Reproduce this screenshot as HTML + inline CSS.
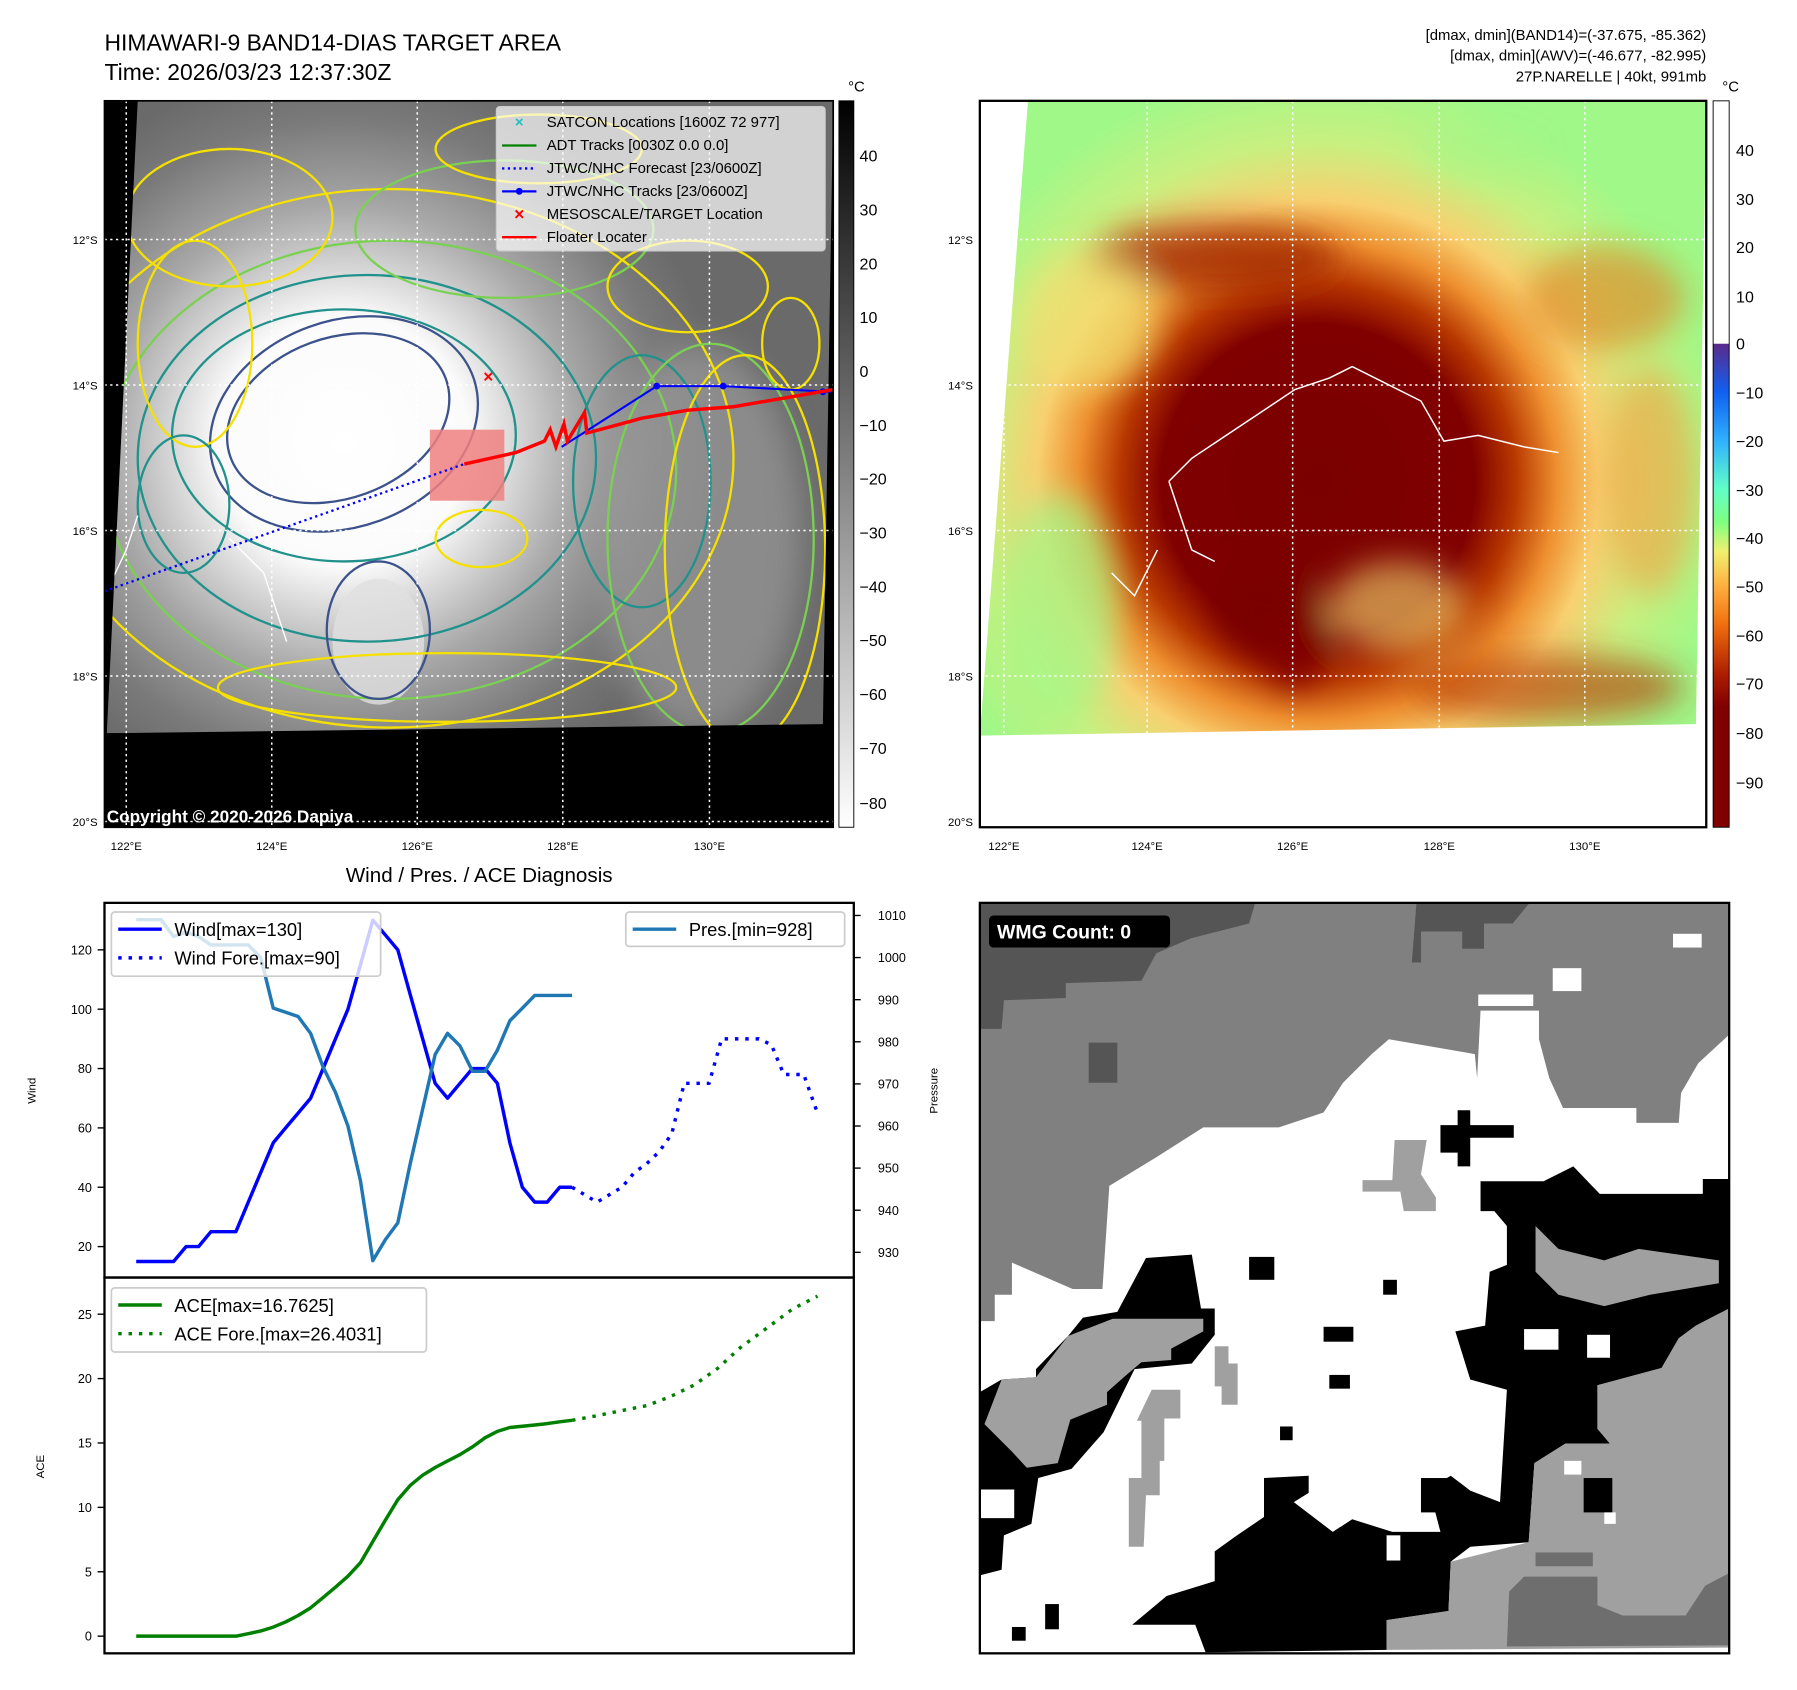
<!DOCTYPE html>
<html><head><meta charset="utf-8"><style>
html,body{margin:0;padding:0;background:#fff;}
svg{display:block;font-family:"Liberation Sans",sans-serif;}
</style></head><body>
<svg id="fig" width="1797" height="1690" viewBox="0 0 1568 1475" xmlns="http://www.w3.org/2000/svg">
<defs>
<radialGradient id="irg" cx="300" cy="385" r="330" gradientUnits="userSpaceOnUse">
<stop offset="0" stop-color="#fff"/><stop offset="0.33" stop-color="#fbfbfb"/><stop offset="0.45" stop-color="#d8d8d8"/><stop offset="0.62" stop-color="#a8a8a8"/><stop offset="0.85" stop-color="#7a7a7a"/><stop offset="1" stop-color="#6a6a6a"/></radialGradient>
<radialGradient id="awv" cx="1150" cy="420" r="360" gradientUnits="userSpaceOnUse">
<stop offset="0" stop-color="#7a0000"/><stop offset="0.38" stop-color="#800000"/><stop offset="0.48" stop-color="#b83800"/><stop offset="0.58" stop-color="#ee9030"/><stop offset="0.68" stop-color="#f8d070"/><stop offset="0.82" stop-color="#c8f080"/><stop offset="1" stop-color="#a0f888"/></radialGradient>
<linearGradient id="cbL" x1="0" y1="0" x2="0" y2="1"><stop offset="0" stop-color="#000"/><stop offset="1" stop-color="#fff"/></linearGradient>
<linearGradient id="cbR" x1="0" y1="0" x2="0" y2="1">
<stop offset="0" stop-color="#5a2a8a"/><stop offset="0.1" stop-color="#1060f0"/><stop offset="0.2" stop-color="#30b0ff"/><stop offset="0.3" stop-color="#60ffc8"/><stop offset="0.37" stop-color="#80ff80"/><stop offset="0.43" stop-color="#f0f070"/><stop offset="0.5" stop-color="#ffb040"/><stop offset="0.58" stop-color="#f07010"/><stop offset="0.68" stop-color="#b02000"/><stop offset="0.75" stop-color="#800000"/><stop offset="1" stop-color="#800000"/></linearGradient>
<filter id="blur" x="-20%" y="-20%" width="140%" height="140%"><feGaussianBlur stdDeviation="14"/></filter>
<clipPath id="clipL"><polygon points="120,88 727,88 718,632 93,640"/></clipPath>
<clipPath id="clipR"><polygon points="897,88 1489,88 1480,632 855,642"/></clipPath>
</defs>

<text x="91" y="44" font-size="20">HIMAWARI-9 BAND14-DIAS TARGET AREA</text>
<text x="91" y="70" font-size="20">Time: 2026/03/23 12:37:30Z</text>
<g font-size="13" text-anchor="end">
<text x="1489" y="35">[dmax, dmin](BAND14)=(-37.675, -85.362)</text>
<text x="1489" y="53">[dmax, dmin](AWV)=(-46.677, -82.995)</text>
<text x="1489" y="71">27P.NARELLE | 40kt, 991mb</text></g>

<!-- LEFT MAP -->
<g>
<rect x="91" y="88" width="636" height="634" fill="#000"/>
<g clip-path="url(#clipL)">
<rect x="91" y="88" width="636" height="560" fill="url(#irg)"/>
<ellipse cx="610" cy="470" rx="90" ry="170" fill="#9a9a9a" opacity="0.7" filter="url(#blur)"/>
<ellipse cx="330" cy="560" rx="40" ry="55" fill="#e0e0e0" opacity="0.8"/>
<g fill="none" stroke-width="2">
<ellipse cx="340" cy="400" rx="300" ry="235" stroke="#f5e000"/>
<ellipse cx="340" cy="410" rx="250" ry="200" stroke="#7ad151"/>
<ellipse cx="320" cy="400" rx="200" ry="160" stroke="#21918c"/>
<ellipse cx="300" cy="380" rx="150" ry="110" stroke="#21918c"/>
<ellipse cx="300" cy="370" rx="120" ry="90" stroke="#3b528b" transform="rotate(-20 300 370)"/>
<ellipse cx="295" cy="365" rx="100" ry="70" stroke="#3b528b" transform="rotate(-20 295 365)"/>
<ellipse cx="560" cy="420" rx="60" ry="110" stroke="#21918c"/>
<ellipse cx="620" cy="470" rx="90" ry="170" stroke="#7ad151"/>
<ellipse cx="650" cy="480" rx="70" ry="170" stroke="#f5e000"/>
<ellipse cx="200" cy="190" rx="90" ry="60" stroke="#f5e000"/>
<ellipse cx="440" cy="200" rx="130" ry="60" stroke="#7ad151"/>
<ellipse cx="330" cy="550" rx="45" ry="60" stroke="#3b528b"/>
<ellipse cx="390" cy="600" rx="200" ry="30" stroke="#f5e000"/>
<ellipse cx="170" cy="300" rx="50" ry="90" stroke="#f5e000"/>
<ellipse cx="160" cy="440" rx="40" ry="60" stroke="#21918c"/>
<ellipse cx="470" cy="130" rx="90" ry="30" stroke="#f5e000"/>
<ellipse cx="600" cy="250" rx="70" ry="40" stroke="#f5e000"/>
<ellipse cx="420" cy="470" rx="40" ry="25" stroke="#f5e000"/>
<ellipse cx="690" cy="300" rx="25" ry="40" stroke="#f5e000"/>
</g>
<path d="M91,520 L110,480 L120,450 M200,470 L230,500 L250,560" stroke="#fff" fill="none" stroke-width="1.2"/>
</g>
<g stroke="#fff" stroke-width="1.3" stroke-dasharray="2,3">
<line x1="110" y1="88" x2="110" y2="722"/><line x1="237" y1="88" x2="237" y2="722"/><line x1="364" y1="88" x2="364" y2="722"/><line x1="491" y1="88" x2="491" y2="722"/><line x1="619" y1="88" x2="619" y2="722"/>
<line x1="91" y1="209" x2="727" y2="209"/><line x1="91" y1="336" x2="727" y2="336"/><line x1="91" y1="463" x2="727" y2="463"/><line x1="91" y1="590" x2="727" y2="590"/><line x1="91" y1="717" x2="727" y2="717"/></g>
<rect x="375" y="375" width="65" height="62" fill="#f08080" opacity="0.85"/>
<line x1="91" y1="516" x2="405" y2="405" stroke="#00f" stroke-width="2" stroke-dasharray="2,3"/>
<polyline points="490,390 573,337 631,337 725,342" fill="none" stroke="#00f" stroke-width="1.8"/>
<g fill="#00f"><circle cx="573" cy="337" r="3"/><circle cx="631" cy="337" r="3"/><circle cx="718" cy="342" r="3"/></g>
<polyline points="405,405 450,395 475,385 480,375 485,390 492,370 495,385 510,360 512,378 560,365 600,358 640,355 727,340" fill="none" stroke="#f00" stroke-width="3"/>
<text x="426" y="334" font-size="15" fill="#f00" text-anchor="middle" font-weight="bold">×</text>
<g>
<rect x="433" y="93" width="287" height="126" fill="#fff" fill-opacity="0.7" stroke="#ccc" rx="3"/>
<g font-size="13"><text x="477" y="111">SATCON Locations [1600Z 72 977]</text><text x="477" y="131">ADT Tracks [0030Z 0.0 0.0]</text><text x="477" y="151">JTWC/NHC Forecast [23/0600Z]</text><text x="477" y="171">JTWC/NHC Tracks [23/0600Z]</text><text x="477" y="191">MESOSCALE/TARGET Location</text><text x="477" y="211">Floater Locater</text></g>
<text x="453" y="111" fill="#20c0c0" font-size="13" text-anchor="middle" font-weight="bold">×</text>
<line x1="438" y1="127" x2="468" y2="127" stroke="#008000" stroke-width="2"/>
<line x1="438" y1="147" x2="468" y2="147" stroke="#00f" stroke-width="2" stroke-dasharray="2,3"/>
<line x1="438" y1="167" x2="468" y2="167" stroke="#00f" stroke-width="2"/><circle cx="453" cy="167" r="3" fill="#00f"/>
<text x="453" y="192" fill="#f00" font-size="15" text-anchor="middle" font-weight="bold">×</text>
<line x1="438" y1="207" x2="468" y2="207" stroke="#f00" stroke-width="2"/></g>
<text x="93" y="718" font-size="15" font-weight="bold" fill="#fff">Copyright © 2020-2026 Dapiya</text>
<rect x="91" y="88" width="636" height="634" fill="none" stroke="#000" stroke-width="1.5"/>
</g>
<g font-size="10">
<g text-anchor="end"><text x="85" y="213">12°S</text><text x="85" y="340">14°S</text><text x="85" y="467">16°S</text><text x="85" y="594">18°S</text><text x="85" y="721">20°S</text></g>
<g text-anchor="middle"><text x="110" y="742">122°E</text><text x="237" y="742">124°E</text><text x="364" y="742">126°E</text><text x="491" y="742">128°E</text><text x="619" y="742">130°E</text></g></g>
<g>
<rect x="732" y="88" width="13" height="634" fill="url(#cbL)" stroke="#000" stroke-width="0.8"/>
<text x="740" y="80" font-size="13">°C</text>
<g font-size="14"><text x="750" y="141">40</text><text x="750" y="188">30</text><text x="750" y="235">20</text><text x="750" y="282">10</text><text x="750" y="329">0</text><text x="750" y="376">−10</text><text x="750" y="423">−20</text><text x="750" y="470">−30</text><text x="750" y="517">−40</text><text x="750" y="564">−50</text><text x="750" y="611">−60</text><text x="750" y="658">−70</text><text x="750" y="706">−80</text></g></g>

<!-- RIGHT MAP -->
<g>
<g clip-path="url(#clipR)">
<rect x="855" y="88" width="634" height="560" fill="url(#awv)"/>
<g filter="url(#blur)">
<ellipse cx="1110" cy="540" rx="55" ry="40" fill="#7a0000" transform="rotate(30 1110 540)"/>
<ellipse cx="1130" cy="570" rx="25" ry="30" fill="#800000"/>
<ellipse cx="1060" cy="225" rx="110" ry="30" fill="#a02800" opacity="0.8"/>
<ellipse cx="1400" cy="260" rx="70" ry="45" fill="#e08020" opacity="0.6"/>
<ellipse cx="925" cy="530" rx="50" ry="100" fill="#a0f888" opacity="0.7"/>
<ellipse cx="950" cy="280" rx="60" ry="60" fill="#f0e070" opacity="0.7"/>
<ellipse cx="1300" cy="130" rx="60" ry="30" fill="#a0f888" opacity="0.5"/>
<ellipse cx="1350" cy="600" rx="120" ry="30" fill="#b03000" opacity="0.6"/>
<ellipse cx="1220" cy="530" rx="60" ry="40" fill="#f8e070" opacity="0.6"/>
<ellipse cx="1440" cy="420" rx="40" ry="100" fill="#f0a040" opacity="0.6"/>
</g>
<path d="M1020,420 L1040,400 L1070,380 L1100,360 L1130,340 L1160,330 L1180,320 L1200,330 L1240,350 L1260,385 L1290,380 L1330,390 L1360,395 M1020,420 L1030,450 L1040,480 L1060,490 M970,500 L990,520 L1010,480" fill="none" stroke="#fff" stroke-width="1.3"/>
</g>
<g stroke="#fff" stroke-width="1.3" stroke-dasharray="2,3">
<line x1="876" y1="88" x2="876" y2="722"/><line x1="1001" y1="88" x2="1001" y2="722"/><line x1="1128" y1="88" x2="1128" y2="722"/><line x1="1256" y1="88" x2="1256" y2="722"/><line x1="1383" y1="88" x2="1383" y2="722"/>
<line x1="855" y1="209" x2="1489" y2="209"/><line x1="855" y1="336" x2="1489" y2="336"/><line x1="855" y1="463" x2="1489" y2="463"/><line x1="855" y1="590" x2="1489" y2="590"/><line x1="855" y1="717" x2="1489" y2="717"/></g>
<rect x="855" y="88" width="634" height="634" fill="none" stroke="#000" stroke-width="2"/>
</g>
<g font-size="10">
<g text-anchor="end"><text x="849" y="213">12°S</text><text x="849" y="340">14°S</text><text x="849" y="467">16°S</text><text x="849" y="594">18°S</text><text x="849" y="721">20°S</text></g>
<g text-anchor="middle"><text x="876" y="742">122°E</text><text x="1001" y="742">124°E</text><text x="1128" y="742">126°E</text><text x="1256" y="742">128°E</text><text x="1383" y="742">130°E</text></g></g>
<g>
<rect x="1495" y="88" width="14" height="212" fill="#fff"/>
<rect x="1495" y="300" width="14" height="422" fill="url(#cbR)"/>
<rect x="1495" y="88" width="14" height="634" fill="none" stroke="#000" stroke-width="0.8"/>
<text x="1503" y="80" font-size="13">°C</text>
<g font-size="14"><text x="1515" y="136">40</text><text x="1515" y="179">30</text><text x="1515" y="221">20</text><text x="1515" y="264">10</text><text x="1515" y="305">0</text><text x="1515" y="348">−10</text><text x="1515" y="390">−20</text><text x="1515" y="433">−30</text><text x="1515" y="475">−40</text><text x="1515" y="517">−50</text><text x="1515" y="560">−60</text><text x="1515" y="602">−70</text><text x="1515" y="645">−80</text><text x="1515" y="688">−90</text></g></g>

<!-- WMG PANEL -->
<g>
<rect x="855" y="788" width="654" height="655" fill="#fff"/>
<polygon fill="#808080" points="855,788 1509,788 1509,903 1482,928 1467,954 1465,980 1428,980 1428,967 1364,967 1352,941 1343,907 1343,882 1292,882 1289,941 1287,920 1212,907 1197,920 1172,945 1155,971 1116,984 1050,984 1009,1010 968,1035 962,1125 936,1125 883,1102 883,1130 868,1130 868,1153 855,1153"/>
<polygon fill="#555" points="855,789 1095,789 1090,806 1039,819 1009,832 996,856 930,858 930,871 876,873 874,898 855,898"/>
<polygon fill="#555" points="1236,789 1334,789 1320,806 1295,806 1295,828 1276,828 1276,813 1240,813 1240,840 1232,840"/>
<rect x="950" y="910" width="25" height="35" fill="#555"/>
<rect x="1460" y="815" width="25" height="12" fill="#fff"/><rect x="1355" y="845" width="25" height="20" fill="#fff"/><rect x="1290" y="868" width="48" height="10" fill="#fff"/>
<polygon fill="#000" points="1292,1031 1347,1031 1373,1018 1396,1042 1486,1042 1486,1029 1509,1029 1509,1142 1480,1157 1465,1168 1450,1194 1394,1209 1394,1247 1405,1260 1366,1260 1339,1277 1334,1346 1283,1350 1266,1363 1264,1406 1210,1414 1210,1440 1052,1442 1043,1418 988,1418 1018,1393 1060,1380 1060,1354 1078,1341 1103,1324 1103,1290 1142,1288 1142,1303 1129,1311 1163,1337 1180,1326 1215,1337 1257,1337 1247,1299 1266,1288 1283,1301 1309,1311 1315,1213 1283,1204 1270,1162 1296,1157 1300,1110 1315,1104 1315,1070 1304,1057 1292,1057"/>
<polygon fill="#a0a0a0" points="1509,1142 1509,1438 1210,1440 1210,1414 1264,1406 1266,1363 1334,1346 1339,1277 1366,1260 1405,1260 1394,1247 1394,1209 1450,1194 1465,1168 1480,1157"/>
<polygon fill="#6e6e6e" points="1317,1389 1330,1376 1394,1376 1394,1401 1416,1410 1471,1410 1488,1384 1509,1373 1509,1436 1315,1437"/>
<rect x="1340" y="1355" width="50" height="12" fill="#6e6e6e"/>
<polygon fill="#a0a0a0" points="1340,1070 1360,1090 1400,1100 1430,1090 1500,1100 1500,1120 1440,1130 1400,1140 1360,1130 1340,1110"/>
<polygon fill="#000" points="1272,969 1283,969 1283,982 1321,982 1321,993 1283,993 1283,1018 1272,1018 1272,1006 1257,1006 1257,982 1272,982"/>
<polygon fill="#000" points="855,1215 874,1204 904,1202 904,1195 932,1166 945,1150 975,1145 1000,1098 1040,1095 1048,1142 1060,1142 1060,1165 1040,1190 990,1195 963,1250 935,1282 906,1290 900,1330 876,1340 874,1370 855,1375"/>
<polygon fill="#a0a0a0" points="859,1243 874,1204 904,1202 932,1166 971,1151 1050,1151 1050,1162 1022,1177 1022,1187 996,1189 983,1200 966,1215 966,1226 934,1239 923,1277 896,1281 883,1267 870,1254"/>
<polygon fill="#a0a0a0" points="1005,1213 1030,1213 1030,1238 1016,1238 1016,1275 1012,1275 1012,1305 1000,1305 998,1350 985,1350 985,1290 996,1290 996,1240 992,1240"/>
<polygon fill="#a0a0a0" points="1060,1175 1072,1175 1072,1190 1080,1190 1080,1226 1066,1226 1066,1210 1060,1210"/>
<polygon fill="#a0a0a0" points="1217,995 1245,995 1240,1025 1253,1045 1253,1057 1225,1057 1222,1040 1189,1040 1189,1030 1215,1030"/>
<g fill="#000"><rect x="1117" y="1245" width="11" height="12"/><rect x="1207" y="1117" width="12" height="13"/><rect x="1155" y="1158" width="26" height="13"/><rect x="1090" y="1097" width="22" height="20"/><rect x="1240" y="1290" width="25" height="30"/><rect x="1160" y="1200" width="18" height="12"/><rect x="1000" y="1100" width="40" height="40"/><rect x="1382" y="1290" width="25" height="30"/><rect x="883" y="1420" width="12" height="12"/><rect x="912" y="1400" width="12" height="22"/></g>
<g fill="#fff"><rect x="1365" y="1275" width="15" height="12"/><rect x="1330" y="1160" width="30" height="18"/><rect x="1385" y="1165" width="20" height="20"/><rect x="1400" y="1320" width="10" height="10"/><rect x="855" y="1300" width="30" height="25"/><rect x="1210" y="1340" width="12" height="22"/></g>
<g><rect x="863" y="799" width="158" height="28" rx="4" fill="#000"/>
<text x="870" y="819" font-size="17" font-weight="bold" fill="#fff">WMG Count: 0</text></g>
<rect x="855" y="788" width="654" height="655" fill="none" stroke="#000" stroke-width="2"/>
</g>

<!-- DIAGNOSIS CHART -->
<text x="418" y="770" font-size="18" text-anchor="middle">Wind / Pres. / ACE Diagnosis</text>
<g id="diag"></g>
<rect x="91" y="788" width="654" height="327" fill="none" stroke="#000" stroke-width="2"/>
<rect x="91" y="1115" width="654" height="328" fill="none" stroke="#000" stroke-width="2"/>
<text transform="translate(31,952) rotate(-90)" font-size="10" text-anchor="middle">Wind</text>
<text transform="translate(818,952) rotate(-90)" font-size="10" text-anchor="middle">Pressure</text>
<text transform="translate(38,1280) rotate(-90)" font-size="10" text-anchor="middle">ACE</text>
</svg>
<script>
const windVals=[15,15,15,15,20,20,25,25,25,35,45,55,60,65,70,80,90,100,115,130,125,120,105,90,75,70,75,80,80,75,55,40,35,35,40,40];
const windForeIdx=[35,37,39,40,41,42,43,44,46,47,50,51,52,53.6,54.7];
const windForeVals=[40,35,40,45,48,52,58,75,75,90,90,88,78,78,65];
const presVals=[1009,1009,1009,1005,1006,1005,1003,1003,1003,1003,1000,988,987,986,982,974,968,960,947,928,933,937,951,964,977,982,979,973,973,978,985,988,991,991,991,991];
const aceVals=[0,0,0,0,0,0,0,0,0,0.2,0.4,0.7,1.1,1.6,2.2,3.0,3.8,4.65,5.7,7.35,9,10.6,11.7,12.5,13.1,13.6,14.1,14.7,15.4,15.9,16.2,16.3,16.4,16.5,16.65,16.76];
const aceForeIdx=[35,36.9,38.9,41,42.9,44.8,46.7,48.5,50.6,52.7,54.7];
const aceForeVals=[16.76,17.1,17.5,17.9,18.6,19.5,20.8,22.4,23.9,25.4,26.4];
const windTicks=[20,40,60,80,100,120];
const presTicks=[930,940,950,960,970,980,990,1000,1010];
const aceTicks=[0,5,10,15,20,25];

const NS='http://www.w3.org/2000/svg';
const g=document.getElementById('diag');
const xS=i=>118.7+10.87*i;
const yW=v=>1088-(v-20)*(1088-829)/100;
const yP=v=>1093-(v-930)*(1093-799)/80;
const yA=v=>1428-v*(1428-1147)/25;
function mk(tag,attrs){const e=document.createElementNS(NS,tag);for(const k in attrs)e.setAttribute(k,attrs[k]);g.appendChild(e);return e;}
function line(xs,ys,color,dash,name){
  const pts=xs.map((x,i)=>x.toFixed(1)+','+ys[i].toFixed(1)).join(' ');
  const p=mk('polyline',{points:pts,fill:'none',stroke:color,'stroke-width':3,'stroke-linejoin':'round'});
  if(dash)p.setAttribute('stroke-dasharray',dash);
  
  
}
line(windVals.map((v,i)=>xS(i)),windVals.map(yW),'#0000ff',null,'wind-line');
line(windForeIdx.map(xS),windForeVals.map(yW),'#0000ff','3,6','wind-forecast-line');
line(presVals.map((v,i)=>xS(i)),presVals.map(yP),'#1f77b4',null,'pressure-line');
line(aceVals.map((v,i)=>xS(i)),aceVals.map(yA),'#008000',null,'ace-line');
line(aceForeIdx.map(xS),aceForeVals.map(yA),'#008000','3,6','ace-forecast-line');
function tick(x1,x2,y,label,tx,anchor,name){
  mk('line',{x1:x1,x2:x2,y1:y,y2:y,stroke:'#000','stroke-width':1.2});
  const t=mk('text',{x:tx,y:y+4,'font-size':11,'text-anchor':anchor});
  t.textContent=label;
  
  
}
windTicks.forEach(v=>tick(85,91,yW(v),v,80,'end','wind-tick-label'));
presTicks.forEach(v=>tick(745,751,yP(v),v,766,'start','pressure-tick-label'));
aceTicks.forEach(v=>tick(85,91,yA(v),v,80,'end','ace-tick-label'));
function legend(x,y,w,h,items,name){
  const r=mk('rect',{x:x,y:y,width:w,height:h,rx:3,fill:'#fff','fill-opacity':0.8,stroke:'#ccc','stroke-width':1.5});
  
  
  items.forEach((it,i)=>{
    const yy=y+15+i*25;
    const l=mk('line',{x1:x+6,x2:x+44,y1:yy,y2:yy,stroke:it[1],'stroke-width':3});
    if(it[2])l.setAttribute('stroke-dasharray','3,6');
    const t=mk('text',{x:x+55,y:yy+6,'font-size':16});
    t.textContent=it[0];
  });
}
legend(97,796,235,56,[['Wind[max=130]','#0000ff',0],['Wind Fore.[max=90]','#0000ff',1]],'wind-legend');
legend(546,796,191,30,[['Pres.[min=928]','#1f77b4',0]],'pressure-legend');
legend(97,1124,275,56,[['ACE[max=16.7625]','#008000',0],['ACE Fore.[max=26.4031]','#008000',1]],'ace-legend');
</script>
</body></html>
